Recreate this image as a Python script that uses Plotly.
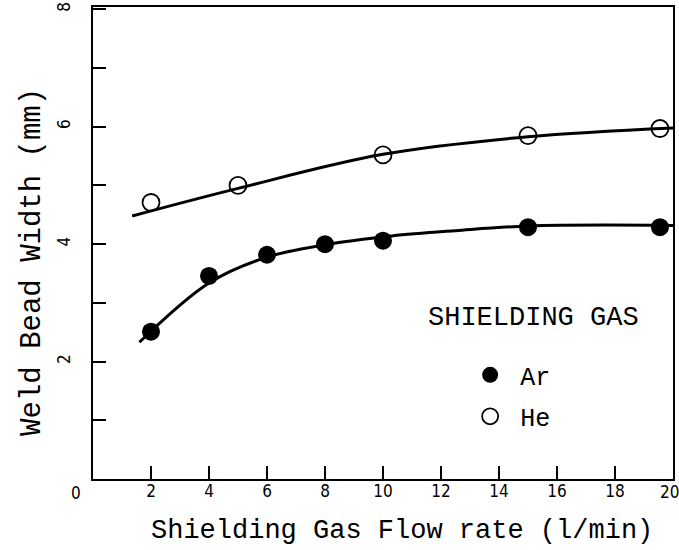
import plotly.graph_objects as go

# ---- data ----
ar_x = [2, 4, 6, 8, 10, 15, 19.55]
ar_y = [2.51, 3.46, 3.82, 4.0, 4.06, 4.29, 4.29]
he_x = [2, 5, 10, 15, 19.55]
he_y = [4.71, 5.0, 5.52, 5.85, 5.97]

# hand-drawn fitted curves
ar_fit_x = [1.6, 4, 6, 8, 10.3, 12.5, 15, 20]
ar_fit_y = [2.33, 3.34, 3.78, 3.99, 4.14, 4.23, 4.31, 4.32]
he_fit_x = [1.35, 5, 10, 15, 20]
he_fit_y = [4.48, 4.95, 5.53, 5.83, 5.98]

x_tickvals = [2, 4, 6, 8, 10, 12, 14, 16, 18, 20]
x_ticktext = ["2", "4", "6", "8", "10", "12", "14", "16", "18", ""]
x_end_labels = ["0", "20"]   # labels at the two ends of the x axis (drawn as text)
y_tickvals = [1, 2, 3, 4, 5, 6, 7, 8]
y_ticktext = ["", "2", "", "4", "", "6", "", "8"]

series_names = ["Ar", "He"]
legend_title = "SHIELDING GAS"
x_title = "Shielding Gas Flow rate (l/min)"
y_title = "Weld Bead Width (mm)"

MONO = "Liberation Mono, Courier New, monospace"
NARROW = "Liberation Sans Narrow, DejaVu Sans Condensed, Roboto, sans-serif"

fig = go.Figure()
fig.add_trace(go.Scatter(x=ar_fit_x, y=ar_fit_y, mode="lines",
                         line=dict(color="black", width=3, shape="spline"),
                         showlegend=False, hoverinfo="skip"))
fig.add_trace(go.Scatter(x=he_fit_x, y=he_fit_y, mode="lines",
                         line=dict(color="black", width=3, shape="spline"),
                         showlegend=False, hoverinfo="skip"))
fig.add_trace(go.Scatter(x=ar_x, y=ar_y, mode="markers", name=series_names[0],
                         legendgroup="ar", cliponaxis=False,
                         marker=dict(symbol="circle", size=18, color="black")))
fig.add_trace(go.Scatter(x=he_x, y=he_y, mode="markers", name=series_names[1],
                         legendgroup="he", cliponaxis=False,
                         marker=dict(symbol="circle-open", size=17, color="black",
                                     line=dict(width=1.8, color="black"))))

fig.update_layout(
    width=679, height=550,
    margin=dict(l=93, r=6, t=7, b=71, autoexpand=False),
    paper_bgcolor="white", plot_bgcolor="white",
    showlegend=True,
    legend=dict(x=0.633, y=0.269, xanchor="left", yanchor="top",
                bgcolor="rgba(0,0,0,0)", borderwidth=0, itemwidth=50,
                font=dict(family=MONO, size=25, color="black"),
                tracegroupgap=6, traceorder="grouped"),
    xaxis=dict(range=[0, 20], tickmode="array", tickvals=x_tickvals, ticktext=x_ticktext,
               ticks="inside", ticklen=13, tickwidth=1.5, tickcolor="black",
               showline=True, linecolor="black", linewidth=2, mirror=True,
               showgrid=False, zeroline=False, automargin=False,
               tickfont=dict(family=NARROW, size=17, color="black"),
               ticklabelstandoff=-4),
    yaxis=dict(range=[0, 8.04], tickmode="array", tickvals=y_tickvals, ticktext=y_ticktext,
               ticks="inside", ticklen=13, tickwidth=1.5, tickcolor="black",
               showline=True, linecolor="black", linewidth=2, mirror=True,
               showgrid=False, zeroline=False, tickangle=-90, automargin=False,
               ticklabeloverflow="allow",
               tickfont=dict(family=NARROW, size=17, color="black"),
               ticklabelstandoff=14),
    annotations=[
        dict(text=x_title, xref="paper", yref="paper", x=0.533, y=0, yshift=-52,
             xanchor="center", yanchor="middle", showarrow=False,
             font=dict(family=MONO, size=27, color="black")),
        dict(text=y_title, xref="paper", yref="paper", x=0, xshift=-60, y=0.46,
             xanchor="center", yanchor="middle", showarrow=False, textangle=-90,
             font=dict(family=MONO, size=29, color="black")),
        dict(text=x_end_labels[0], xref="paper", yref="paper", x=0, xshift=-17, y=0, yshift=-14,
             xanchor="center", yanchor="middle", showarrow=False,
             font=dict(family=NARROW, size=17, color="black")),
        dict(text=x_end_labels[1], xref="paper", yref="paper", x=1, xshift=-4, y=0, yshift=-13,
             xanchor="center", yanchor="middle", showarrow=False,
             font=dict(family=NARROW, size=17, color="black")),
        dict(text=legend_title, xref="paper", yref="paper", x=0.76, y=0.341,
             xanchor="center", yanchor="middle", showarrow=False,
             font=dict(family=MONO, size=27, color="black")),
    ],
)

fig.write_html("out.html", config={"displayModeBar": False},
               post_script="document.body.style.margin='0';document.body.style.padding='0';")
